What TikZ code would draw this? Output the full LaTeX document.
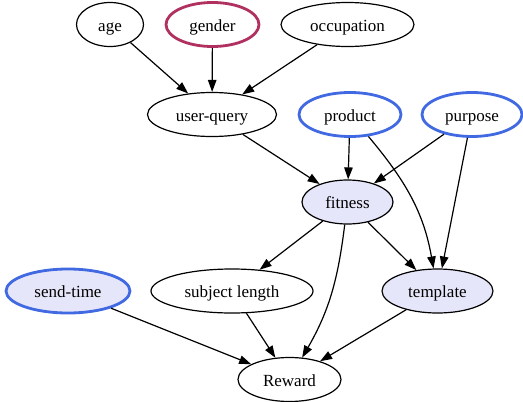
\documentclass[tikz,border=0pt]{standalone}
\usepackage{fontspec}
\setmainfont{Liberation Serif}
\usepackage{tikz}
\usetikzlibrary{shapes.geometric}
\usetikzlibrary{arrows.meta}
\definecolor{maroonx}{RGB}{176,48,96}
\definecolor{royal}{RGB}{65,105,225}
\definecolor{lavend}{RGB}{230,230,250}

\begin{document}
\begin{tikzpicture}[x = 1pt, y = 1pt,
        var/.style = {ellipse, draw, line width = 1.2pt, minimum height = 44pt,
            inner sep = 0pt, text height = 15.5pt, text depth = 2.5pt,
            font = \fontsize{17}{20}\selectfont},
        treat/.style = {draw = royal, line width = 2.8pt},
        guard/.style = {draw = maroonx, line width = 2.8pt},
        mid/.style = {fill = lavend},
        every path/.style = {line width = 1.2pt},
        >={Triangle[length = 12pt, width = 8.5pt]}]
        \useasboundingbox (0, 0) rectangle (523, -402);

        \node[var, minimum width = 67pt] (age) at (110, -24.5) {age};
        \node[var, guard, minimum width = 93pt] (gender) at (212.5, -24.5) {gender};
        \node[var, minimum width = 133pt] (occ) at (347.5, -24.5) {occupation};

        \node[var, minimum width = 129pt] (uq) at (212, -114.5) {user-query};
        \node[var, treat, minimum width = 102pt] (prod) at (350, -114.5) {product};
        \node[var, treat, minimum width = 100pt] (purp) at (472, -114.5) {purpose};

        \node[var, mid, minimum width = 91pt] (fit) at (347.5, -202) {fitness};

        \node[var, treat, mid, minimum width = 124pt] (send) at (68, -291) {send-time};
        \node[var, minimum width = 162pt] (subj) at (232, -291) {subject length};
        \node[var, mid, minimum width = 111pt] (tmpl) at (437.5, -291) {template};

        \node[var, minimum width = 103pt] (rew) at (289.5, -379.5) {Reward};

        \draw[->] (age) -- (uq);
        \draw[->] (gender) -- (uq);
        \draw[->] (occ) -- (uq);

        \draw[->] (uq) -- (fit);
        \draw[->] (prod) -- (fit);
        \draw[->] (purp) -- (fit);

        \draw[->] (prod) to[out = -50, in = 100] (tmpl);
        \draw[->] (purp) -- (tmpl);

        \draw[->] (fit) -- (subj);
        \draw[->] (fit) -- (tmpl);
        \draw[->] (fit) to[out = -97, in = 60] (rew);

        \draw[->] (send) -- (rew);
        \draw[->] (subj) -- (rew);
        \draw[->] (tmpl) -- (rew);
    \end{tikzpicture}
\end{document}
